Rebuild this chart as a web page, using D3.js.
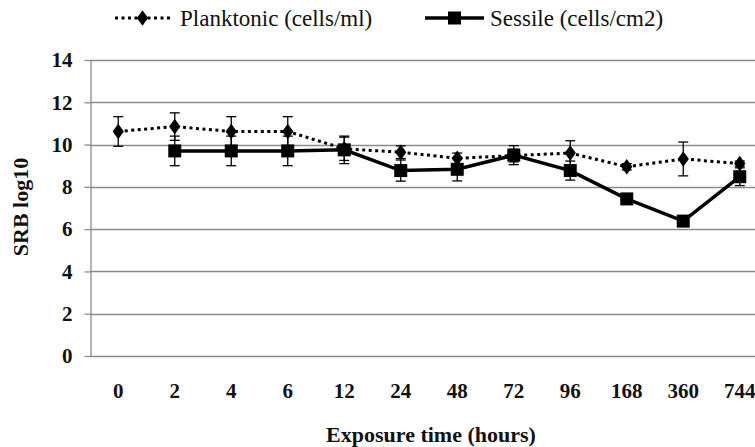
<!DOCTYPE html>
<html>
<head>
<meta charset="utf-8">
<script src="https://cdn.jsdelivr.net/npm/d3@7"></script>
<style>
  html, body { margin: 0; padding: 0; background: #fff; }
  svg { display: block; }
  svg text { font-family: 'Liberation Serif', 'DejaVu Serif', serif; }
</style>
</head>
<body>
<div id="chart"></div>
<script>
// Exposure time categories (hours)
const categories = ['0', '2', '4', '6', '12', '24', '48', '72', '96', '168', '360', '744'];

// Planktonic (cells/ml), log10
const planktonic_values = [10.62, 10.85, 10.62, 10.62, 9.8, 9.64, 9.35, 9.48, 9.6, 8.95, 9.32, 9.1];
const planktonic_errors = [0.7, 0.65, 0.7, 0.7, 0.55, 0.3, 0.25, 0.3, 0.58, 0.15, 0.8, 0.12];

// Sessile (cells/cm2), log10 -- no value at 0 h
const sessile_values = [null, 9.7, 9.7, 9.7, 9.75, 8.77, 8.83, 9.5, 8.77, 7.43, 6.38, 8.48];
const sessile_errors = [null, 0.7, 0.7, 0.7, 0.65, 0.5, 0.55, 0.45, 0.45, 0.15, 0.12, 0.42];

const y_ticks = [0, 2, 4, 6, 8, 10, 12, 14];

const series = [
    {name: 'Planktonic (cells/ml)', values: planktonic_values, errors: planktonic_errors, kind: 'diamond'},
    {name: 'Sessile (cells/cm2)', values: sessile_values, errors: sessile_errors, kind: 'square'}
];

const svg_width = 755;
const svg_height = 447;
const margin = {left: 90, top: 60, bottom: 91};
const band = 56.5;
const plot_height = svg_height - margin.top - margin.bottom;
const text_color = '#111';
const grid_color = '#8c8c8c';

const svg = d3.select('#chart').append('svg')
    .attr('width', svg_width)
    .attr('height', svg_height)
    .style('overflow', 'hidden');

const x_scale = d3.scaleBand()
    .domain(categories)
    .range([margin.left, margin.left + band * categories.length]);

const y_scale = d3.scaleLinear()
    .domain([0, 14])
    .range([margin.top + plot_height, margin.top]);

const cx = i => x_scale(categories[i]) + x_scale.bandwidth() / 2;

// gridlines
svg.append('g')
    .selectAll('line')
    .data(y_ticks)
    .enter()
    .append('line')
    .attr('x1', margin.left)
    .attr('x2', svg_width)
    .attr('y1', d => Math.round(y_scale(d)) + 0.5)
    .attr('y2', d => Math.round(y_scale(d)) + 0.5)
    .attr('stroke', grid_color)
    .attr('stroke-width', 1.3);

// y axis
const y_axis = d3.axisLeft(y_scale)
    .tickValues(y_ticks)
    .tickSizeInner(6)
    .tickSizeOuter(0)
    .tickPadding(12);

const y_g = svg.append('g')
    .attr('transform', `translate(${margin.left + 0.5},0)`)
    .call(y_axis);
y_g.attr('font-family', null).attr('font-size', null);
y_g.select('.domain').attr('stroke', grid_color).attr('stroke-width', 1.3);
y_g.selectAll('.tick line').attr('stroke', grid_color).attr('stroke-width', 1.3);
y_g.selectAll('.tick text')
    .style('font-size', '21px')
    .style('font-weight', 'bold')
    .style('fill', text_color);

// x tick labels (no tick marks)
svg.append('g')
    .selectAll('text')
    .data(categories)
    .enter()
    .append('text')
    .attr('x', d => x_scale(d) + x_scale.bandwidth() / 2)
    .attr('y', 398)
    .attr('text-anchor', 'middle')
    .style('font-size', '21px')
    .style('font-weight', 'bold')
    .style('fill', text_color)
    .text(d => d);

// axis titles
svg.append('text')
    .attr('x', 431)
    .attr('y', 442)
    .attr('text-anchor', 'middle')
    .style('font-size', '22px')
    .style('font-weight', 'bold')
    .style('fill', text_color)
    .text('Exposure time (hours)');

svg.append('text')
    .attr('transform', 'translate(28,207)rotate(-90)')
    .attr('text-anchor', 'middle')
    .style('font-size', '22px')
    .style('font-weight', 'bold')
    .style('fill', text_color)
    .text('SRB log10');

const diamond = d3.symbol().type(d3.symbolDiamond).size(70);

function draw_marker(g, kind, x, y) {
    if (kind === 'diamond') {
        g.append('path')
            .attr('d', diamond())
            .attr('transform', `translate(${x},${y}) scale(1.25,1)`)
            .attr('fill', '#000');
    } else {
        g.append('rect')
            .attr('x', x - 6.5)
            .attr('y', y - 6.5)
            .attr('width', 13)
            .attr('height', 13)
            .attr('fill', '#000');
    }
}

// series
series.forEach(s => {
    const g = svg.append('g');
    const pts = s.values.map((v, i) => ({i, v, e: s.errors[i]})).filter(d => d.v !== null);

    // error bars
    pts.forEach(d => {
        const x = cx(d.i);
        g.append('line')
            .attr('x1', x).attr('x2', x)
            .attr('y1', y_scale(d.v - d.e)).attr('y2', y_scale(d.v + d.e))
            .attr('stroke', '#000').attr('stroke-width', 1.3);
        [d.v - d.e, d.v + d.e].forEach(ev => {
            g.append('line')
                .attr('x1', x - 5).attr('x2', x + 5)
                .attr('y1', y_scale(ev)).attr('y2', y_scale(ev))
                .attr('stroke', '#000').attr('stroke-width', 1.3);
        });
    });

    const line = d3.line()
        .x(d => cx(d.i))
        .y(d => y_scale(d.v));

    g.append('path')
        .datum(pts)
        .attr('d', line)
        .attr('fill', 'none')
        .attr('stroke', '#000')
        .attr('stroke-width', s.kind === 'diamond' ? 3 : 3.5)
        .attr('stroke-dasharray', s.kind === 'diamond' ? '3,3.5' : null);

    pts.forEach(d => draw_marker(g, s.kind, cx(d.i), y_scale(d.v)));
});

// legend
const legend_items = [
    {s: series[0], x1: 115, x2: 170, text_x: 180},
    {s: series[1], x1: 425, x2: 484, text_x: 490}
];
legend_items.forEach(item => {
    const g = svg.append('g');
    const ly = 18;
    g.append('line')
        .attr('x1', item.x1).attr('x2', item.x2)
        .attr('y1', ly).attr('y2', ly)
        .attr('stroke', '#000')
        .attr('stroke-width', item.s.kind === 'diamond' ? 3 : 3.5)
        .attr('stroke-dasharray', item.s.kind === 'diamond' ? '3,3.5' : null);
    draw_marker(g, item.s.kind, (item.x1 + item.x2) / 2, ly);
    g.append('text')
        .attr('x', item.text_x)
        .attr('y', 26)
        .style('font-size', '23px')
        .style('fill', text_color)
        .text(item.s.name);
});
</script>
</body>
</html>
